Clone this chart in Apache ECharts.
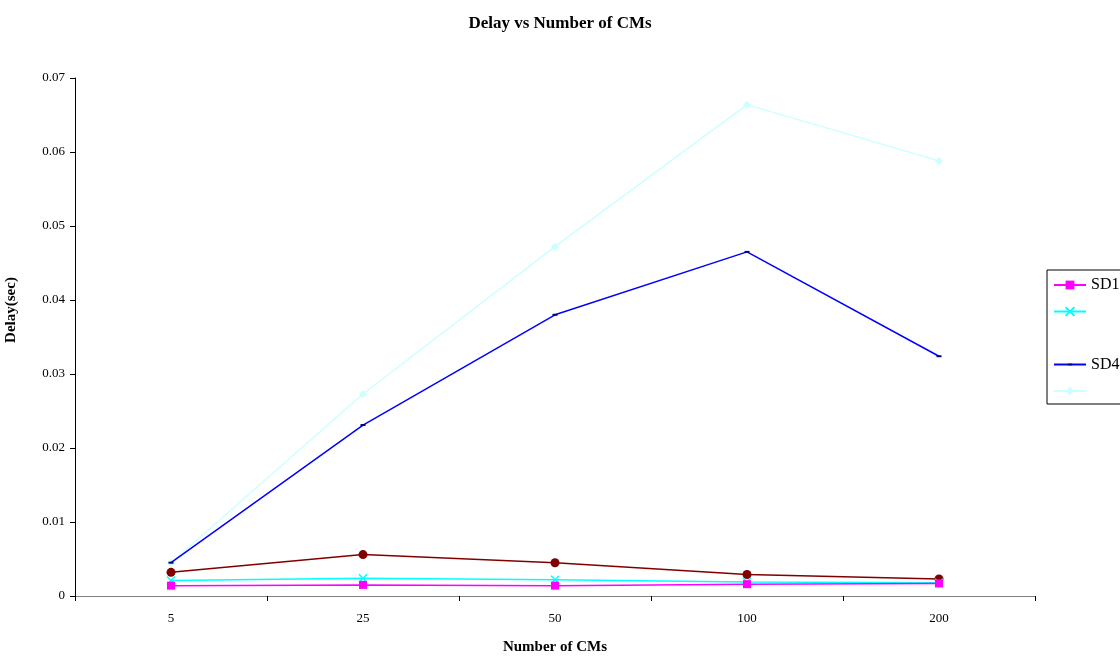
<!DOCTYPE html>
<html>
<head>
<meta charset="utf-8">
<script src="https://cdn.jsdelivr.net/npm/echarts@6/dist/echarts.min.js"></script>
<style>html,body{margin:0;padding:0;background:#fff}#c{width:1120px;height:656px}</style>
</head>
<body>
<div id="c"></div>
<script>
var categories = ['5', '25', '50', '100', '200'];
var sd1 = [0.0014, 0.0015, 0.0014, 0.0016, 0.0017];
var sd2 = [0.0021, 0.0024, 0.0022, 0.0019, 0.0018];
var sd3 = [0.0032, 0.0056, 0.0045, 0.0029, 0.0023];
var sd4 = [0.0045, 0.0231, 0.0380, 0.0465, 0.0324];
var sd5 = [0.0045, 0.0273, 0.0472, 0.0664, 0.0588];
var yTicks = { min: 0, max: 0.07, interval: 0.01 };

var font = '"Liberation Serif", "Times New Roman", serif';
var chart = echarts.init(document.getElementById('c'), null, { renderer: 'canvas' });
var crossPath = 'path://M0,0L10,10M10,0L0,10';
var dashPath = 'path://M0,0M10,10M2.5,4L7.5,4L7.5,6L2.5,6Z';
chart.setOption({
  animation: false,
  title: {
    text: 'Delay vs Number of CMs', left: 'center', top: 10,
    textStyle: { fontFamily: font, fontSize: 17, fontWeight: 'bold', color: '#000' }
  },
  legend: {
    orient: 'vertical', left: 1047, top: 270,
    padding: [7, 40, 5, 6], itemGap: 10.5, itemWidth: 32, itemHeight: 11,
    borderColor: '#000', borderWidth: 1,
    textStyle: { fontFamily: font, fontSize: 16, color: '#000' },
    formatter: function (n) { return (n === 'SD1' || n === 'SD4') ? n : ' '; },
    data: [
      { name: 'SD1' },
      { name: 'SD2' },
      { name: 'SD3', itemStyle: { opacity: 0 }, lineStyle: { opacity: 0 } },
      { name: 'SD4' },
      { name: 'SD5' }
    ]
  },
  grid: { left: 75, right: 85, top: 78, bottom: 60, outerBoundsMode: 'none', containLabel: false },
  xAxis: {
    type: 'category', data: categories, boundaryGap: true,
    name: 'Number of CMs', nameLocation: 'middle', nameGap: 44,
    nameTextStyle: { fontFamily: font, fontSize: 15, fontWeight: 'bold', color: '#000' },
    axisLine: { lineStyle: { color: '#808080', width: 1 } },
    axisTick: { show: true, length: 5, lineStyle: { color: '#000' } },
    axisLabel: { fontFamily: font, fontSize: 13, color: '#000', margin: 16 },
    splitLine: { show: false }
  },
  yAxis: {
    type: 'value', min: yTicks.min, max: yTicks.max, interval: yTicks.interval,
    name: 'Delay(sec)', nameLocation: 'middle', nameGap: 56, nameRotate: 90,
    nameTextStyle: { fontFamily: font, fontSize: 15, fontWeight: 'bold', color: '#000', padding: [0, 0, 0, 54] },
    axisLine: { show: true, lineStyle: { color: '#000', width: 1 } },
    axisTick: { show: true, length: 5, lineStyle: { color: '#000' } },
    axisLabel: { fontFamily: font, fontSize: 13, color: '#000', margin: 10 },
    splitLine: { show: false }
  },
  series: [
    { name: 'SD5', type: 'line', data: sd5, symbol: 'diamond', symbolSize: 8,
      lineStyle: { color: '#ccffff', width: 1.5 }, itemStyle: { color: '#ccffff' }, z: 1 },
    { name: 'SD4', type: 'line', data: sd4, symbol: dashPath, symbolSize: 10,
      lineStyle: { color: '#0000ff', width: 1.5 }, itemStyle: { color: '#000080' }, z: 2 },
    { name: 'SD3', type: 'line', data: sd3, symbol: 'circle', symbolSize: 9,
      lineStyle: { color: '#800000', width: 1.5 }, itemStyle: { color: '#800000' }, z: 3 },
    { name: 'SD2', type: 'line', data: sd2, symbol: crossPath, symbolSize: 8,
      lineStyle: { color: '#00ffff', width: 1.5 }, itemStyle: { color: 'none', borderColor: '#00ffff', borderWidth: 1.5 }, z: 4 },
    { name: 'SD1', type: 'line', data: sd1, symbol: 'rect', symbolSize: 8,
      lineStyle: { color: '#ff00ff', width: 1.5 }, itemStyle: { color: '#ff00ff' }, z: 5 }
  ]
});
</script>
</body>
</html>
